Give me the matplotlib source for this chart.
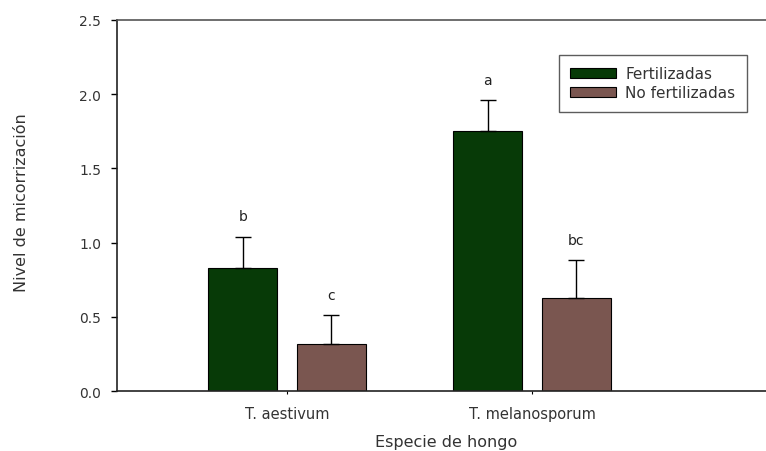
import matplotlib
matplotlib.use("Agg")

import numpy as np
import matplotlib.pyplot as plt

species = ["T. aestivum", "T. melanosporum"]
fert_mean = [0.83, 1.75]
fert_err = [0.21, 0.21]
nofert_mean = [0.32, 0.63]
nofert_err = [0.19, 0.25]
fert_letters = ["b", "a"]
nofert_letters = ["c", "bc"]

green = "#073a07"
brown = "#7a5650"

plt.rcParams["font.family"] = "DejaVu Sans"

fig = plt.figure(figsize=(7.66, 4.52), dpi=100)
ax = fig.add_axes([0.1527, 0.1321, 0.8473, 0.8221])

x = np.arange(len(species))
w = 0.2816
off = 0.18

ax.bar(x - off, fert_mean, w, color=green, edgecolor="black", linewidth=0.8,
       label="Fertilizadas", zorder=2)
ax.bar(x + off, nofert_mean, w, color=brown, edgecolor="black", linewidth=0.8,
       label="No fertilizadas", zorder=2)

# upper error bars only
for xs, m, e in [(x - off, fert_mean, fert_err), (x + off, nofert_mean, nofert_err)]:
    ax.errorbar(xs, m, yerr=[np.zeros(len(e)), e], fmt="none", ecolor="black",
                elinewidth=1.0, capsize=5.5, capthick=1.0, zorder=3)

# significance letters
for xs, m, e, labs in [(x - off, fert_mean, fert_err, fert_letters),
                       (x + off, nofert_mean, nofert_err, nofert_letters)]:
    for xi, mi, ei, lab in zip(xs, m, e, labs):
        ax.text(xi, mi + ei + 0.11, lab, ha="center", va="baseline",
                fontsize=10, color="#222222")

ax.set_xlim(-0.694, 1.955)
ax.set_ylim(0, 2.5)
ax.set_yticks([0.0, 0.5, 1.0, 1.5, 2.0, 2.5])
ax.set_yticklabels(["%.1f" % v for v in [0.0, 0.5, 1.0, 1.5, 2.0, 2.5]])
ax.set_xticks(x)
ax.set_xticklabels(species)

ax.tick_params(axis="y", direction="out", length=4.5, width=1.0, pad=7,
               labelsize=10, labelcolor="#333333")
ax.tick_params(axis="x", direction="out", length=2.5, width=0.8, pad=8,
               labelsize=10.5, labelcolor="#333333")

for s in ["left", "bottom"]:
    ax.spines[s].set_linewidth(1.2)
    ax.spines[s].set_color("#222222")
ax.spines["top"].set_linewidth(1.2)
ax.spines["top"].set_color("#555555")
ax.spines["right"].set_visible(False)

fig.text(446 / 766, 1 - 447 / 452, "Especie de hongo", ha="center",
         va="baseline", fontsize=11.5, color="#333333")
fig.text(22 / 766, 0.552, "Nivel de micorrización", rotation=90,
         ha="center", va="center", fontsize=11.5, color="#333333")

leg = ax.legend(loc="upper right", bbox_to_anchor=(747 / 766, 1 - 56 / 452),
                bbox_transform=fig.transFigure, fontsize=11, frameon=True,
                fancybox=False, edgecolor="#333333", handlelength=3.0,
                handleheight=0.7, borderpad=0.75, labelspacing=0.25,
                handletextpad=0.6, borderaxespad=0)
leg.get_frame().set_linewidth(1.0)
for t in leg.get_texts():
    t.set_color("#333333")

fig.savefig("out.png", dpi=100)
